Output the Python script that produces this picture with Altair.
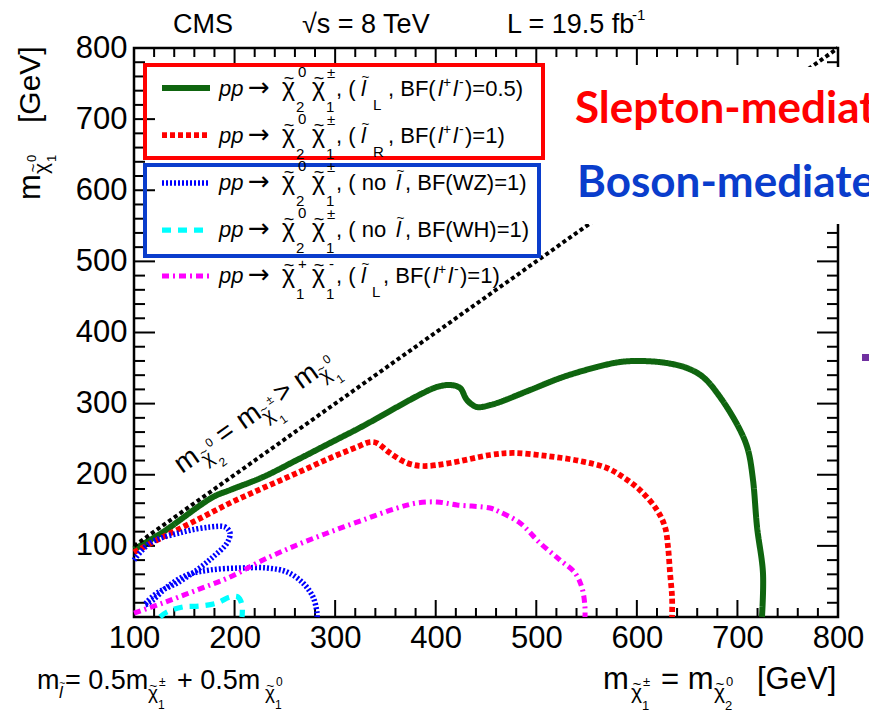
import math
import altair as alt
import pandas as pd

# ---------------- chart values (GeV) ----------------
series = ["L05", "R1", "WZ", "WH", "C1C1"]
series_colors = ["#0f650f", "#ff0000", "#0000ff", "#00ffff", "#ff00ff"]
series_dash = [[1, 0], [5, 3], [2, 2], [9, 7], [7, 4, 2, 4]]

green_x = [100, 128.8, 178.6, 195.5, 228.3, 262, 294.9, 327.7, 361.5, 387.4, 401.3, 414.2,
           424.2, 431.1, 441, 454, 463.9, 493.8, 526.6, 560.4, 583.2, 606.1, 630, 649.9,
           665.8, 682.7, 702.6, 710.5, 715.5, 719.5, 725.4, 724.4]
green_y = [95, 119.5, 168.7, 178.5, 196.8, 220.7, 244.6, 268.5, 295.2, 314.9, 323.4, 326.2,
           322, 305, 295.2, 298, 302.3, 319.1, 337.4, 351.5, 358.5, 359.9, 357, 350,
           337.4, 309.3, 262.9, 234.8, 192.6, 126.5, 61.9, 0]

red_x = [100, 128.8, 162.6, 195.5, 228.3, 262.1, 294.9, 321.7, 334.7, 341.6, 354.5, 371.5,
         387.4, 414.2, 454, 476.9, 510.7, 543.5, 570.3, 586.2, 603.1, 620, 628, 631, 633, 635, 635]
red_y = [91, 112.5, 136.4, 160.3, 181.4, 202.4, 223.5, 239, 246, 244.6, 230.6, 216.5,
         212.3, 216.5, 227.8, 230.6, 226.3, 219.3, 209.5, 196.8, 178.5, 150.4, 126.5, 98.4,
         61.9, 28.1, 0]

blue_x = [100, 115.9, 148.7, 175.6, 190.5, 195.5, 192.5, 178.6, 162.6, 142.8, 122.9, 112.9,
          110.9, 118.9, 132.8, 152.7, 175.6, 205.4, 232.2, 252.1, 268, 278, 282, 282]
blue_y = [80, 104, 119.5, 126.5, 126.5, 118.1, 104, 84.4, 66.1, 47.8, 33.7, 21.1,
          16.9, 23.9, 42.2, 59, 66.1, 68.9, 68.9, 63.3, 47.8, 28.1, 5.6, 0]

cyan_x = [125.9, 132.8, 148.7, 165.6, 182.5, 195.5, 203.4, 207.4, 207.4]
cyan_y = [0, 7, 14.1, 15.5, 19.7, 28.1, 28.1, 16.9, 0]

magenta_x = [100, 128.8, 162.6, 195.5, 228.3, 262, 294.9, 327.7, 361.5, 381.4, 401.3, 421.2,
             454, 463.9, 483.8, 503.7, 523.6, 538.5, 545.5, 548.4, 548.4]
magenta_y = [5.6, 19.7, 38, 56.2, 80.1, 101.2, 119.5, 136.4, 153.2, 160.3, 161.7, 157.5,
             153.2, 147.6, 132.2, 104, 80.1, 61.9, 40.8, 14.1, 0]

diag_x = [100, 800]
diag_y = [100, 800]

tick_labels = [100, 200, 300, 400, 500, 600, 700, 800]
x_major = tick_labels
x_minor = [v for v in range(100, 801, 20) if v % 100]
y_major = [0] + tick_labels
y_minor = [v for v in range(0, 801, 20) if v % 100]

# ---------------- layout ----------------
W, H = 704, 569
PL, PT = 134, 48
FONT = "Liberation Sans"


def gx(px):
    return 100 + (px - PL) * 700 / W


def gy(py):
    return 800 - (py - PT) * 800 / H


XS = alt.Scale(domain=[100, 800], nice=False, zero=False)
YS = alt.Scale(domain=[0, 800], nice=False, zero=False)
XAX = alt.Axis(values=tick_labels, title="", ticks=False, domain=False, grid=False,
               labelFont=FONT, labelFontSize=31, labelColor="black", labelPadding=6,
               labelFlush=False, labelOverlap=False, labelBaseline="top")
YAX = alt.Axis(values=tick_labels, title="", ticks=False, domain=False, grid=False,
               labelFont=FONT, labelFontSize=31, labelColor="black", labelPadding=7,
               labelOverlap=False, labelAlign="right", labelBaseline="middle")


def X(f):
    return alt.X(f, type="quantitative", scale=XS, axis=XAX)


def Y(f):
    return alt.Y(f, type="quantitative", scale=YS, axis=YAX)


one = pd.DataFrame({"a": [0]})
layers = []


# ---- inward ticks on all four sides ----
def tick_layer(vals, side, length):
    d = pd.DataFrame({"v": vals})
    base = alt.Chart(d).mark_rule(color="black", strokeWidth=2)
    if side == "bottom":
        enc = dict(x=X("v"), y=alt.value(H), y2=alt.value(H - length))
    elif side == "top":
        enc = dict(x=X("v"), y=alt.value(0), y2=alt.value(length))
    elif side == "left":
        enc = dict(y=Y("v"), x=alt.value(0), x2=alt.value(length))
    else:
        enc = dict(y=Y("v"), x=alt.value(W), x2=alt.value(W - length))
    return base.encode(**enc)


layers += [tick_layer(x_major, "bottom", 17), tick_layer(x_minor, "bottom", 9),
           tick_layer(x_major, "top", 17), tick_layer(x_minor, "top", 9),
           tick_layer(y_major, "left", 21), tick_layer(y_minor, "left", 11),
           tick_layer(y_major, "right", 21), tick_layer(y_minor, "right", 11)]

# ---- contours ----
rows = []
for name, xs, ys in [("L05", green_x, green_y), ("R1", red_x, red_y), ("WZ", blue_x, blue_y),
                     ("WH", cyan_x, cyan_y), ("C1C1", magenta_x, magenta_y)]:
    for i, (a, b) in enumerate(zip(xs, ys)):
        rows.append({"s": name, "x": a, "y": b, "i": i})
curves = pd.DataFrame(rows)

STROKE = alt.Stroke("s:N", scale=alt.Scale(domain=series, range=series_colors), legend=None)
DASH = alt.StrokeDash("s:N", scale=alt.Scale(domain=series, range=series_dash), legend=None)
WIDTH = alt.StrokeWidth("s:O", scale=alt.Scale(domain=series, range=[6, 5, 5, 5, 5]), legend=None)

layers.append(alt.Chart(curves).mark_line(interpolate="catmull-rom").encode(
    x=X("x"), y=Y("y"), order="i:Q", stroke=STROKE, strokeDash=DASH, strokeWidth=WIDTH))

layers.append(alt.Chart(pd.DataFrame({"x": diag_x, "y": diag_y})).mark_line(
    color="black", strokeWidth=4, strokeDash=[4, 3]).encode(x=X("x"), y=Y("y")))

# ---- white text box (slide overlay) ----
layers.append(alt.Chart(one).mark_rect(fill="white").encode(
    x=alt.value(565 - PL), x2=alt.value(900 - PL), y=alt.value(67 - PT), y2=alt.value(224 - PT)))

# ---- legend samples ----
leg_y = [88, 135, 183, 230, 276]
leg = pd.DataFrame({"s": series, "x1": [gx(162)] * 5, "x2": [gx(210)] * 5,
                    "y": [gy(p) for p in leg_y]})
layers.append(alt.Chart(leg).mark_rule().encode(
    x=X("x1"), x2=alt.X2("x2"), y=Y("y"), stroke=STROKE, strokeDash=DASH, strokeWidth=WIDTH))

# ---- red / blue boxes ----
for (x1, x2, y1, y2, c) in [(145, 543, 65, 158, "#ff0000"), (145, 539, 165, 256, "#0a3dcc")]:
    layers.append(alt.Chart(one).mark_rect(fillOpacity=0, stroke=c, strokeWidth=4).encode(
        x=alt.value(x1 - PL), x2=alt.value(x2 - PL), y=alt.value(y1 - PT), y2=alt.value(y2 - PT)))

layers.append(alt.Chart(one).mark_rect(fill="#7030a0").encode(
    x=alt.value(862 - PL), x2=alt.value(880 - PL), y=alt.value(354 - PT), y2=alt.value(361 - PT)))

# ---------------- text ----------------
segs = []


def put(t, ax, ay, ang, along, nrm, fs, style="normal", col="black", font=FONT, weight="normal"):
    th = math.radians(ang)
    px = ax + along * math.cos(th) - nrm * math.sin(th)
    py = ay + along * math.sin(th) + nrm * math.cos(th)
    segs.append(dict(t=t, x=gx(px), y=gy(py), fs=fs, style=style, col=col, ang=ang,
                     font=font, weight=weight))


def add(t, px, py, fs, style="normal", col="black", font=FONT, weight="normal"):
    put(t, px, py, 0, 0, 0, fs, style, col, font, weight)


def chi(ax, ay, along, nrm, fs, ang=0):
    put("\u03c7", ax, ay, ang, along, nrm, fs)
    put("~", ax, ay, ang, along + 0.07 * fs, nrm - 0.47 * fs, 0.72 * fs)


def ltil(ax, ay, along, nrm, fs, ang=0):
    put("l", ax, ay, ang, along, nrm, fs, "italic")
    put("~", ax, ay, ang, along + 0.02 * fs, nrm - 0.66 * fs, 0.62 * fs)


def hchi(px, py, fs):
    chi(px, py, 0, 0, fs)


def hl(px, py, fs):
    ltil(px, py, 0, 0, fs)


# title
add("CMS", 173, 33, 27)
add("\u221as = 8 TeV", 302, 33, 27)
add("L = 19.5 fb", 507, 33, 27)
add("-1", 632, 20, 15)

# legend text
bases = [96, 142.5, 190, 236.5, 283]
LF, SF, CF = 22, 15, 25
for i, b in enumerate(bases):
    add("pp", 219, b, LF, "italic")
    add("\u2192", 248, b, 26, font="DejaVu Sans")
    hchi(282, b, CF)
    hchi(312, b, CF)
    if i < 4:
        add("0", 298, b - 19, SF)
        add("2", 296, b + 16, SF)
        add("\u00b1", 327, b - 18, SF)
        add("1", 326, b + 16, SF)
    else:
        add("+", 298, b - 14, SF)
        add("1", 296, b + 16, SF)
        add("-", 329, b - 14, SF)
        add("1", 326, b + 16, SF)

b = bases[0]
add(", (", 336, b, LF); hl(361, b, LF); add("L", 373, b + 14, SF)
add(", BF(", 388, b, LF); add("l", 438, b, LF, "italic"); add("+", 443, b - 9, 14)
add("l", 453, b, LF, "italic"); add("-", 459, b - 9, 14); add(")=0.5)", 465, b, LF)
b = bases[1]
add(", (", 336, b, LF); hl(361, b, LF); add("R", 373, b + 14, SF)
add(", BF(", 388, b, LF); add("l", 438, b, LF, "italic"); add("+", 443, b - 9, 14)
add("l", 453, b, LF, "italic"); add("-", 459, b - 9, 14); add(")=1)", 465, b, LF)
b = bases[2]
add(", ( no", 336, b, LF); hl(396, b, LF); add(", BF(WZ)=1)", 405, b, LF)
b = bases[3]
add(", ( no", 336, b, LF); hl(396, b, LF); add(", BF(WH)=1)", 405, b, LF)
b = bases[4]
add(", (", 336, b, LF); hl(361, b, LF); add("L", 372, b + 14, SF)
add(", BF(", 383, b, LF); add("l", 433, b, LF, "italic"); add("+", 438, b - 9, 14)
add("l", 448, b, LF, "italic"); add("-", 454, b - 9, 14); add(")=1)", 460, b, LF)

# y title (rotated)
YA = 270
put("m", 40, 200, YA, 0, 0, 31)
chi(40, 200, 26, 8, 21, YA)
put("0", 40, 200, YA, 38, -4, 13)
put("1", 40, 200, YA, 38, 16, 13)
put("[GeV]", 40, 200, YA, 77, 0, 30)

# x title
bx = 689
add("m", 603, bx, 31); hchi(631, bx + 10, 21); add("\u00b1", 643, bx - 3, 13); add("1", 642, bx + 21, 13)
add("= m", 661, bx, 31); hchi(714, bx + 10, 21); add("0", 726, bx - 3, 13); add("2", 725, bx + 21, 13)
add("[GeV]", 757, bx, 31)

# slepton mass relation
add("m", 37, bx, 27); hl(59, bx + 9, 17)
add("= 0.5m", 65, bx, 27); hchi(148, bx + 10, 19); add("\u00b1", 159, bx - 3, 12); add("1", 158, bx + 20, 12)
add("+ 0.5m", 177, bx, 27); hchi(265, bx + 10, 19); add("0", 276, bx - 3, 12); add("1", 275, bx + 20, 12)

# diagonal label
DA = 324.7
AX, AY = 182, 474
for t, al, nr, fs in [("m", 0, 0, 28), ("0", 37, -6, 12), ("2", 37, 18, 12),
                      ("=", 51, 0, 28), ("m", 76, 0, 28), ("\u00b1", 111, -6, 12),
                      ("1", 111, 18, 12), (">", 122, 0, 28), ("m", 146, 0, 28),
                      ("0", 181, -6, 12), ("1", 181, 18, 12)]:
    put(t, AX, AY, DA, al, nr, fs)
for al in [25, 99, 169]:
    chi(AX, AY, al, 8, 19, DA)

# slide annotations
add("Slepton-mediated", 575, 123, 44, col="#ff0000", font="Lato", weight="bold")
add("Boson-mediated", 577, 197, 44, col="#0a3dcc", font="Lato", weight="bold")

seg_df = pd.DataFrame(segs)

for (font, style, weight), grp in seg_df.groupby(["font", "style", "weight"]):
    layers.append(alt.Chart(grp).mark_text(
        font=font, fontStyle=style, fontWeight=weight, align="left", baseline="alphabetic").encode(
        x=X("x"), y=Y("y"), text="t:N",
        size=alt.Size("fs:Q", scale=None),
        angle=alt.Angle("ang:Q", scale=None),
        fill=alt.Fill("col:N", scale=None)))

chart = alt.layer(*layers).properties(
    width=W, height=H,
    padding={"left": PL, "top": PT, "right": 869 - PL - W, "bottom": 714 - PT - H},
    autosize=alt.AutoSizeParams(type="none"),
    background="white",
).configure_view(stroke="black", strokeWidth=2.5)

chart.save("out.html", embed_options={"renderer": "svg", "actions": False})
